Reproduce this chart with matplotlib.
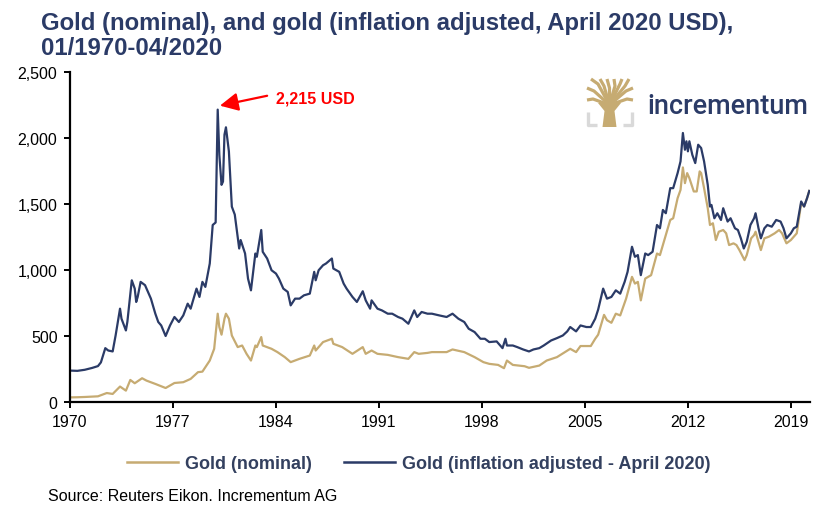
import matplotlib
matplotlib.use('Agg')
import matplotlib.pyplot as plt
from matplotlib.lines import Line2D
from matplotlib.patches import Polygon
from matplotlib.ticker import FuncFormatter

NAVY = '#2B3B67'
GOLD = '#C6AB72'
RED = '#FF0000'
SANS = ['Liberation Sans', 'DejaVu Sans']

# gold in April 2020 dollars
real_years = [
    1970.0, 1970.5, 1971.0, 1971.5, 1971.9, 1972.1, 1972.4, 1972.6, 1972.9,
    1973.1, 1973.4, 1973.5, 1973.8, 1973.9, 1974.2, 1974.4, 1974.5, 1974.6,
    1974.8, 1975.1, 1975.2, 1975.5, 1975.8, 1976.0, 1976.2, 1976.5, 1976.8,
    1977.1, 1977.4, 1977.7, 1978.0, 1978.2, 1978.6, 1978.8, 1979.0, 1979.2,
    1979.5, 1979.7, 1979.9, 1980.04, 1980.15, 1980.3, 1980.4, 1980.5, 1980.6,
    1980.8, 1981.0, 1981.2, 1981.5, 1981.6, 1981.9, 1982.1, 1982.3, 1982.6,
    1982.7, 1983.0, 1983.1, 1983.4, 1983.7, 1984.0, 1984.2, 1984.5, 1984.8,
    1985.0, 1985.3, 1985.6, 1985.9, 1986.3, 1986.6, 1986.7, 1986.9, 1987.2,
    1987.4, 1987.8, 1987.9, 1988.3, 1988.6, 1988.8, 1989.2, 1989.5, 1989.9,
    1990.1, 1990.4, 1990.5, 1990.9, 1991.2, 1991.6, 1991.9, 1992.3, 1992.6,
    1993.0, 1993.3, 1993.4, 1993.6, 1993.9, 1994.3, 1994.6, 1995.1, 1995.6,
    1996.0, 1996.4, 1996.8, 1997.1, 1997.5, 1997.9, 1998.2, 1998.5, 1999.0,
    1999.4, 1999.6, 1999.7, 2000.1, 2000.4, 2000.8, 2001.2, 2001.5, 2001.9,
    2002.2, 2002.7, 2003.1, 2003.5, 2003.8, 2004.0, 2004.4, 2004.7, 2005.1,
    2005.4, 2005.7, 2005.9, 2006.24, 2006.5, 2006.8, 2007.1, 2007.4, 2007.7,
    2007.9, 2008.2, 2008.4, 2008.6, 2008.8, 2009.1, 2009.3, 2009.6, 2009.9,
    2010.1, 2010.3, 2010.5, 2010.8, 2011.0, 2011.3, 2011.5, 2011.66, 2011.8,
    2011.9, 2012.0, 2012.1, 2012.3, 2012.5, 2012.7, 2012.9, 2013.1, 2013.35,
    2013.5, 2013.6, 2013.8, 2014.0, 2014.25, 2014.4, 2014.7, 2014.9, 2015.2,
    2015.4, 2015.6, 2015.8, 2016.0, 2016.25, 2016.5, 2016.6, 2016.8, 2016.96,
    2017.2, 2017.4, 2017.7, 2018.0, 2018.3, 2018.5, 2018.7, 2019.0, 2019.2,
    2019.4, 2019.7, 2019.9, 2020.1, 2020.25,
]
real_values = [
    238, 236, 244, 258, 272, 300, 408, 390, 383,
    504, 707, 631, 542, 608, 922, 859, 758, 796,
    910, 885, 859, 783, 669, 606, 580, 500, 580,
    644, 606, 656, 745, 707, 859, 796, 910, 872,
    1049, 1341, 1360, 2215, 1873, 1645, 1670, 2025, 2081,
    1899, 1480, 1420, 1163, 1227, 1125, 935, 846, 1125,
    1100, 1303, 1138, 1087, 998, 973, 935, 859, 834,
    732, 783, 783, 808, 821, 986, 922, 998, 1036,
    1049, 1087, 1011, 986, 897, 859, 796, 758, 839,
    770, 707, 770, 707, 694, 669, 669, 644, 631,
    593, 669, 694, 644, 682, 669, 669, 656, 644,
    669, 631, 606, 555, 530, 479, 479, 454, 459,
    408, 479, 428, 428, 416, 398, 383, 398, 408,
    428, 466, 484, 504, 535, 568, 535, 580, 568,
    568, 631, 700, 859, 783, 796, 846, 821, 910,
    986, 1176, 1100, 1113, 961, 1125, 1113, 1138, 1341,
    1316, 1455, 1430, 1620, 1620, 1734, 1823, 2038, 1911,
    1975, 1899, 1975, 1873, 1810, 1949, 1924, 1823, 1645,
    1481, 1493, 1392, 1430, 1379, 1468, 1367, 1392, 1316,
    1303, 1240, 1163, 1214, 1341, 1392, 1430, 1316, 1240,
    1316, 1341, 1328, 1379, 1367, 1316, 1240, 1278, 1316,
    1328, 1519, 1481, 1544, 1599,
]

# nominal gold price, USD/oz
nominal_years = [
    1970.0, 1970.5, 1971.0, 1971.5, 1971.9, 1972.5, 1972.9, 1973.4, 1973.8,
    1974.1, 1974.4, 1974.9, 1975.2, 1975.8, 1976.5, 1977.1, 1977.7, 1978.2,
    1978.7, 1979.0, 1979.5, 1979.8, 1980.04, 1980.15, 1980.3, 1980.5, 1980.6,
    1980.8, 1981.0, 1981.4, 1981.7, 1982.0, 1982.3, 1982.6, 1982.7, 1983.0,
    1983.1, 1983.7, 1984.1, 1984.6, 1985.0, 1985.6, 1986.3, 1986.6, 1986.7,
    1987.2, 1987.8, 1987.9, 1988.5, 1989.2, 1989.9, 1990.1, 1990.5, 1990.9,
    1991.6, 1992.3, 1993.0, 1993.4, 1993.7, 1994.3, 1994.6, 1995.6, 1996.0,
    1996.8, 1997.5, 1998.1, 1998.5, 1999.1, 1999.5, 1999.7, 2000.1, 2000.9,
    2001.2, 2001.9, 2002.4, 2003.1, 2004.0, 2004.4, 2004.7, 2005.4, 2005.7,
    2005.9, 2006.3, 2006.5, 2006.8, 2007.1, 2007.4, 2007.8, 2008.2, 2008.4,
    2008.6, 2008.8, 2009.1, 2009.5, 2009.9, 2010.1, 2010.4, 2010.8, 2011.0,
    2011.3, 2011.5, 2011.66, 2011.8, 2011.95, 2012.1, 2012.4, 2012.6, 2012.8,
    2012.9, 2013.1, 2013.35, 2013.5, 2013.7, 2013.9, 2014.1, 2014.4, 2014.6,
    2014.8, 2015.1, 2015.3, 2015.5, 2015.85, 2016.0, 2016.3, 2016.5, 2016.6,
    2016.96, 2017.2, 2017.5, 2017.9, 2018.2, 2018.4, 2018.7, 2019.0, 2019.4,
    2019.7, 2019.9, 2020.1, 2020.25,
]
nominal_values = [
    35, 36, 38, 41, 43, 68, 61, 117, 86,
    167, 142, 180, 162, 137, 106, 144, 150, 175,
    226, 230, 314, 403, 669, 568, 510, 631, 669,
    631, 504, 416, 428, 365, 314, 428, 416, 492,
    428, 403, 378, 340, 302, 327, 352, 428, 390,
    454, 479, 441, 416, 365, 416, 365, 390, 365,
    357, 340, 327, 378, 365, 372, 378, 378, 398,
    378, 340, 302, 289, 281, 256, 314, 281, 271,
    259, 276, 314, 340, 403, 378, 424, 424, 479,
    510, 660, 620, 600, 669, 656, 783, 948, 897,
    910, 770, 935, 961, 1125, 1113, 1227, 1379, 1392,
    1544, 1607, 1777, 1658, 1734, 1696, 1595, 1595, 1747,
    1734, 1620, 1468, 1341, 1354, 1227, 1290, 1303, 1278,
    1189, 1202, 1189, 1151, 1075, 1113, 1240, 1265, 1290,
    1151, 1240, 1252, 1278, 1303, 1278, 1202, 1227, 1278,
    1506, 1481, 1544, 1599,
]

peak_year = 1980.04
peak_value = 2215
x_ticks = [1970, 1977, 1984, 1991, 1998, 2005, 2012, 2019]
y_ticks = [0, 500, 1000, 1500, 2000, 2500]

W, H = 814, 506
fig = plt.figure(figsize=(W / 100, H / 100), dpi=100)
ax = fig.add_axes([70 / W, 103 / H, 740 / W, 330 / H])

ax.plot(nominal_years, nominal_values, color=GOLD, lw=1.6, solid_joinstyle='round')
ax.plot(real_years, real_values, color=NAVY, lw=1.6, solid_joinstyle='round')

ax.set_xlim(1970, 2020.3)
ax.set_ylim(0, 2500)
ax.set_xticks(x_ticks)
ax.set_yticks(y_ticks)
ax.yaxis.set_major_formatter(FuncFormatter(lambda v, p: f'{v:,.0f}'))
for s in ['top', 'right']:
    ax.spines[s].set_visible(False)
for s in ['left', 'bottom']:
    ax.spines[s].set_linewidth(1.6)
ax.tick_params(axis='both', direction='out', length=4, width=1.4, colors='black')
ax.tick_params(axis='x', pad=5)
ax.tick_params(axis='y', pad=5)
for lab in ax.get_xticklabels() + ax.get_yticklabels():
    lab.set_family(SANS)
    lab.set_fontsize(11.5)

# peak annotation
ax.annotate('', xy=(peak_year + 0.15, peak_value + 30), xytext=(1983.4, 2320),
            arrowprops=dict(arrowstyle='-|>,head_length=1.1,head_width=0.55',
                            color=RED, lw=1.6, shrinkA=0, shrinkB=0),
            annotation_clip=False)
ax.text(1984.0, 2305, f'{peak_value:,} USD', color=RED, fontsize=11.5,
        fontweight='bold', family=SANS, va='center', ha='left')

fig.text(41 / W, 1 - 12 / H,
         'Gold (nominal), and gold (inflation adjusted, April 2020 USD),\n01/1970-04/2020',
         ha='left', va='top', fontsize=17.2, fontweight='bold', color=NAVY,
         family=SANS, linespacing=1.12)

handles = [Line2D([], [], color=GOLD, lw=1.8), Line2D([], [], color=NAVY, lw=1.8)]
leg = fig.legend(handles, ['Gold (nominal)', 'Gold (inflation adjusted - April 2020)'],
                 loc='center', bbox_to_anchor=(419 / W, 1 - 465 / H), ncol=2,
                 frameon=False, handlelength=2.8, handletextpad=0.4,
                 columnspacing=1.8, prop=dict(family=SANS, weight='bold', size=13))
for t in leg.get_texts():
    t.set_color('#33405F')

fig.text(48 / W, 1 - 497 / H, 'Source: Reuters Eikon. Incrementum AG',
         ha='left', va='center', fontsize=11.5, family=SANS, color='black')

# logo: tree mark plus wordmark
lax = fig.add_axes([585 / W, 1 - 129 / H, 50 / W, 51 / H])
lax.set_xlim(0, 50)
lax.set_ylim(0, 51)
lax.axis('off')
grey = '#D9D9D9'
lax.plot([3, 3, 12], [16, 3.5, 3.5], color=grey, lw=2.4, solid_capstyle='butt')
lax.plot([47, 47, 38], [16, 3.5, 3.5], color=grey, lw=2.4, solid_capstyle='butt')
lax.add_patch(Polygon([[17.5, 1], [31.5, 1], [29.5, 17], [36, 25], [13, 25], [19.5, 17]],
                      color=GOLD, lw=0))
# main limbs, each forking once near the edge of the square
limbs = [((2, 28), (8, 29)), ((2, 40), (9, 37)), ((6, 49), (13, 44)),
         ((15, 49), (19, 42)), ((22, 49), (24.5, 40)), ((29, 49), (30, 42)),
         ((37, 49), (35, 44)), ((44, 49), (40, 42)), ((48, 40), (41, 37)),
         ((48, 28), (42, 29))]
for (tx, ty), (mx, my) in limbs:
    lax.plot([24.5, mx, tx], [23, my, ty], color=GOLD, lw=2.3,
             solid_capstyle='butt', solid_joinstyle='round')
fig.text(647 / W, 1 - 114 / H, 'incrementum', ha='left', va='baseline',
         fontsize=19.5, family=['Roboto', 'DejaVu Sans'], fontweight='medium',
         color=NAVY)

fig.savefig('out.png', dpi=100)
